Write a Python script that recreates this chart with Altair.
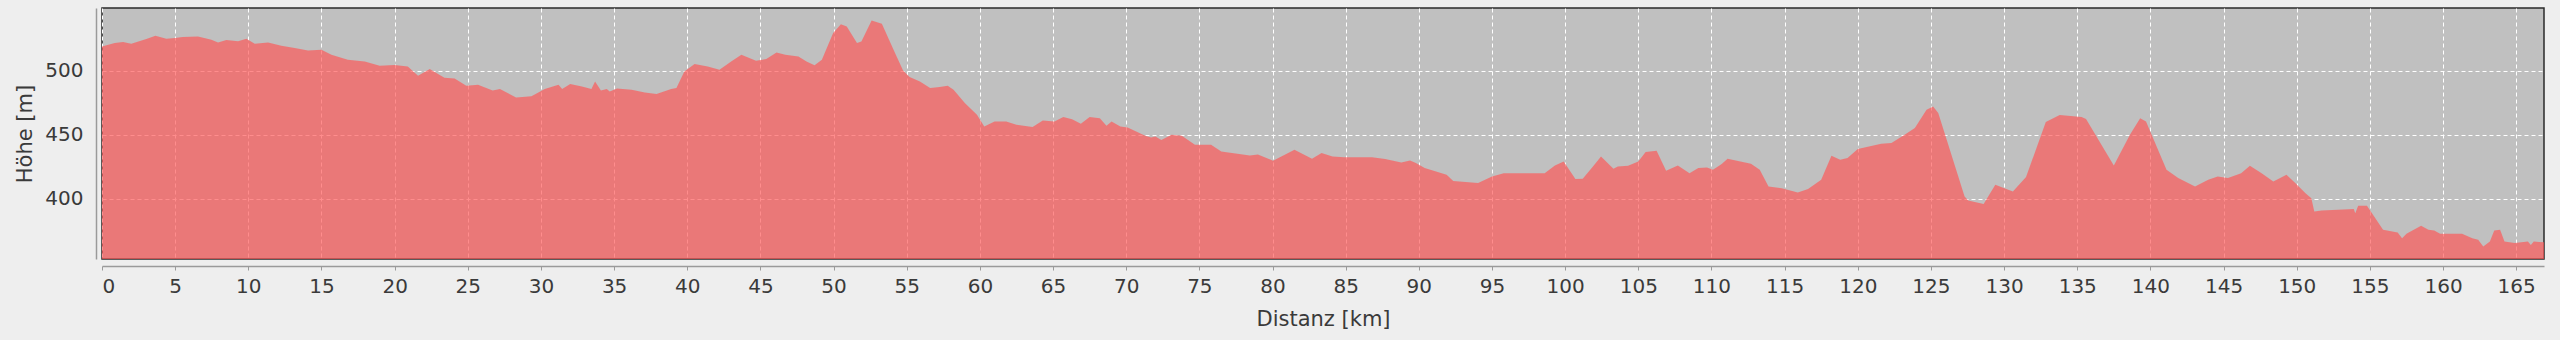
import altair as alt
import pandas as pd

# Distance along route [km]
distanz_km = [
    0.0, 0.87, 1.44, 2.0, 3.03, 3.65, 4.4, 5.0, 5.5, 6.56, 7.48, 7.93, 8.5, 9.3, 9.87,
    10.44, 11.35, 12.26, 13.17, 14.08, 15.0, 15.68, 16.8, 17.96, 18.98, 20.0, 20.9, 21.6,
    22.4, 23.4, 24.1, 24.9, 25.7, 26.7, 27.2, 28.3, 29.35, 30.26, 31.2, 31.45, 32.0, 32.8,
    33.45, 33.7, 34.1, 34.5, 34.7, 35.2, 36.2, 37.1, 37.9, 38.9, 39.26, 39.8, 40.5, 41.4,
    42.2, 43.0, 43.7, 44.7, 45.4, 46.1, 46.7, 47.6, 48.15, 48.7, 49.2, 49.97, 50.5, 50.9,
    51.6, 51.9, 52.6, 53.3, 54.2, 54.75, 55.2, 55.9, 56.6, 57.25, 57.8, 58.2, 58.97, 59.8,
    60.3, 61.0, 61.8, 62.5, 63.6, 64.3, 65.1, 65.7, 66.3, 66.9, 67.5, 68.2, 68.65, 69.0,
    69.6, 70.1, 71.3, 71.7, 72.0, 72.4, 73.1, 73.8, 74.7, 75.8, 76.5, 77.6, 78.45, 79.0,
    80.04, 80.6, 81.5, 82.7, 83.35, 84.1, 84.9, 86.8, 87.7, 88.8, 89.4, 89.8, 90.4, 91.9,
    92.35, 94.05, 95.0, 95.8, 98.6, 99.3, 99.9, 100.7, 101.2, 101.9, 102.45, 103.3, 103.6,
    104.3, 105.0, 105.5, 106.25, 106.9, 107.7, 108.5, 109.1, 109.7, 110.1, 110.7, 111.1,
    112.7, 113.3, 113.9, 114.8, 115.9, 116.6, 117.5, 118.2, 118.8, 119.3, 120.0, 121.6,
    122.3, 123.2, 123.9, 124.7, 125.15, 125.5, 127.3, 127.55, 128.6, 129.4, 130.6, 131.5,
    132.85, 133.8, 135.3, 135.6, 137.5, 138.6, 139.3, 139.7, 141.1, 141.9, 143.05, 143.95,
    144.6, 145.3, 146.2, 146.8, 147.6, 148.4, 149.3, 149.9, 150.6, 151.0, 151.2, 151.7,
    153.9, 154.0, 154.2, 154.8, 155.9, 156.9, 157.2, 157.5, 158.5, 159.0, 159.4, 159.8,
    161.3, 162.0, 162.4, 162.75, 163.2, 163.5, 163.9, 164.2, 164.9, 165.8, 166.0, 166.2,
    166.9,
]

# Elevation [m]
hoehe_m = [
    519, 521.6, 522.4, 521, 524.7, 527.3, 525, 525.5, 526.3, 526.8, 524.2, 522, 524, 523, 525,
    521, 522, 519.5, 517.7, 515.9, 516.4, 512.5, 508.6, 507.3, 503.9, 504.4, 503.4, 496,
    501.3, 494.5, 494, 488.3, 489, 484.6, 485.7, 479.1, 480, 485.7, 489, 485.7, 489.6, 487.7,
    485.7, 491.6, 484.6, 485.7, 483.8, 486.2, 485.2, 483, 481.8, 485.7, 486.5, 499.5, 505.2, 503.4,
    500.8, 507.3, 512.5, 507.8, 509.1, 514.3, 512.5, 511.2, 507.3, 504.2, 508.6, 529.4, 536.4, 534.6,
    521.6, 522.9, 539.3, 536.7, 513.8, 500.2, 495.1, 491.7, 486.5, 487.3, 488.3, 485.2, 474.8, 465.6,
    456.5, 460.4, 460.4, 457.8, 456, 461.2, 460.4, 463.8, 462.2, 458.6, 463.8, 463, 457, 460.4,
    456.5, 455.7, 449.2, 447.9, 448.7, 446, 450, 449.2, 442.2, 442.2, 437, 435.2, 433.9, 434.6,
    429.7, 433, 438.3, 431.3, 435.7, 433, 432.5, 432.5, 431, 428.4, 429.9, 427.9, 424, 418.75,
    414, 412.3, 417.4, 420, 420, 426, 429.1, 415.4, 415.6, 425.2, 433, 423.4, 425.2,
    425.8, 429.1, 436.5, 437.5, 421.9, 426, 420, 424, 424.5, 422.7, 427.1, 431.25,
    427.3, 422.7, 409.6, 408.3, 404.9, 407.6, 414.8, 433.6, 430.5, 431.8, 438.8, 443,
    443.5, 450, 455.2, 469.5, 472.1, 467, 401.8, 398.7, 396, 411, 405.7, 417,
    460, 465.4, 463.8, 462.3, 426, 450, 463, 460.4, 422.7, 416.2, 409.6, 414.8,
    417.4, 416.2, 420, 425.8, 420, 413.5, 418.75, 412.3, 404.4, 400.5, 390, 390.9,
    392, 388.8, 394.5, 394.5, 375.8, 373.7, 369.3, 372.7, 378.9, 375.8, 375.3, 372.7,
    372.7, 369.3, 368, 362.8, 366.7, 375.3, 375.8, 366.7, 365.4, 366.7, 364, 366.7,
    366,
]

x_ticks = list(range(0, 170, 5))
y_ticks = [400, 450, 500]

df = pd.DataFrame({"Distanz": distanz_km, "Hoehe": hoehe_m})

FONT = "DejaVu Sans"

chart = (
    alt.Chart(df)
    .mark_area(color="#FF5555", opacity=0.67, clip=True, interpolate="linear")
    .encode(
        x=alt.X(
            "Distanz:Q",
            scale=alt.Scale(domain=[0, 166.9], nice=False, zero=False),
            axis=alt.Axis(
                title="Distanz [km]",
                values=x_ticks,
                format="d",
                offset=7,
                grid=True,
                gridColor="white",
                gridDash=[4, 3],
                gridWidth=1,
                gridOpacity=1,
                domainColor="#9a9a9a",
                domainWidth=1.5,
                tickColor="#9a9a9a",
                tickSize=4,
                labelPadding=6,
                labelFont=FONT,
                labelFontSize=20,
                labelColor="#3a3a3a",
                titleFont=FONT,
                titleFontSize=21,
                titleFontWeight="normal",
                titleColor="#3a3a3a",
                titlePadding=12,
            ),
        ),
        y=alt.Y(
            "Hoehe:Q",
            scale=alt.Scale(domain=[353, 549], nice=False, zero=False),
            axis=alt.Axis(
                title="Höhe [m]",
                values=y_ticks,
                offset=6,
                grid=True,
                gridColor="white",
                gridDash=[4, 3],
                gridWidth=1,
                gridOpacity=1,
                domainColor="#9a9a9a",
                domainWidth=1.5,
                ticks=False,
                labelPadding=13,
                labelFont=FONT,
                labelFontSize=20,
                labelColor="#3a3a3a",
                titleFont=FONT,
                titleFontSize=21,
                titleFontWeight="normal",
                titleColor="#3a3a3a",
                titlePadding=9,
            ),
        ),
    )
    .properties(
        width=2442,
        height=251,
        background="#eeeeee",
        autosize=alt.AutoSizeParams(type="none"),
        padding={"left": 102, "top": 8, "right": 16, "bottom": 81},
    )
    .configure_view(fill="#c0c0c0", stroke="#2a2a2a", strokeWidth=1.5)
)

chart.save("out.html", embed_options={"renderer": "svg", "actions": False})
